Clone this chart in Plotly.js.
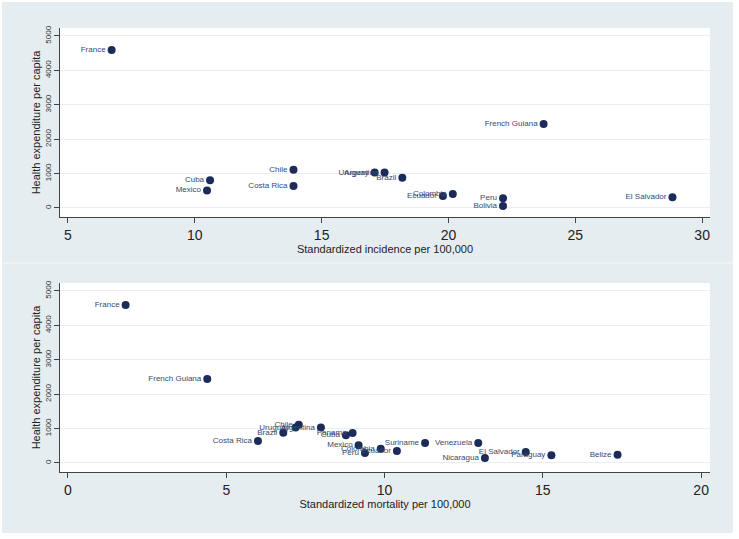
<!DOCTYPE html>
<html>
<head>
<meta charset="utf-8">
<script src="https://cdn.plot.ly/plotly-3.0.1.min.js"></script>
<style>
  html, body { margin: 0; padding: 0; background: #ffffff; }
  #chart { width: 739px; height: 539px; }
</style>
</head>
<body>
<div id="chart"></div>
<script>
// top panel: incidence vs health expenditure
var incCountries = ["France", "Cuba", "Mexico", "Chile", "Costa Rica", "Uruguay", "Argentina",
  "Brazil", "Ecuador", "Colombia", "Peru", "Bolivia", "French Guiana", "El Salvador"];
var incidence = [6.72, 10.60, 10.48, 13.89, 13.89, 17.09, 17.48, 18.18, 19.78, 20.17, 22.15, 22.15, 23.75, 28.83];
var incSpend = [4590, 805, 510, 1115, 640, 1030, 1030, 882, 350, 410, 285, 58, 2440, 315];

// bottom panel: mortality vs health expenditure
var morCountries = ["France", "French Guiana", "Costa Rica", "Brazil", "Uruguay", "Chile", "Argentina",
  "Cuba", "Panama", "Mexico", "Peru", "Colombia", "Ecuador", "Suriname", "Venezuela",
  "Nicaragua", "El Salvador", "Paraguay", "Belize"];
var mortality = [1.82, 4.40, 6.00, 6.80, 7.19, 7.29, 7.99, 8.78, 8.99, 9.18, 9.38, 9.88, 10.39,
  11.28, 12.96, 13.17, 14.46, 15.27, 17.36];
var morSpend = [4590, 2440, 640, 882, 1030, 1115, 1030, 805, 875, 515, 287, 412, 350,
  583, 583, 146, 316, 222, 242];

var navy = "#1c2b5a";
var bg = "#e6edf0";
var W = 739, H = 539;

function pts(x, y, names, xa, ya) {
  return {
    x: x, y: y, text: names,
    xaxis: xa, yaxis: ya,
    type: "scatter",
    mode: "markers+text",
    textposition: "middle left",
    textfont: {size: 8, color: "#3a4870", family: "Liberation Sans, Arial, sans-serif"},
    marker: {size: 8, color: navy},
    hoverinfo: "skip",
    cliponaxis: false
  };
}

var data = [
  pts(incidence, incSpend, incCountries, "x", "y"),
  pts(mortality, morSpend, morCountries, "x2", "y2")
];

function yax(dom, anchor) {
  return {
    domain: dom, anchor: anchor,
    range: [-262, 5232],
    tickvals: [0, 1000, 2000, 3000, 4000, 5000],
    tickangle: -90,
    tickfont: {size: 8, color: "#333"},
    ticks: "outside", ticklen: 5, tickcolor: "#444",
    showline: true, linecolor: "#444", linewidth: 1,
    showgrid: true, gridcolor: "#e8eef1", gridwidth: 1,
    zeroline: false, automargin: false,
    title: {text: "Health expenditure per capita", font: {size: 11, color: "#222"}, standoff: 0}
  };
}

function xax(range, vals, dom, anchor, title) {
  return {
    domain: dom, anchor: anchor,
    range: range, tickvals: vals,
    tickfont: {size: 14, color: "#222"},
    ticks: "outside", ticklen: 5, tickcolor: "#444",
    showline: true, linecolor: "#444", linewidth: 1,
    showgrid: false, zeroline: false, automargin: false,
    title: {text: title, font: {size: 11, color: "#222"}, standoff: 0}
  };
}

var xdom = [60 / W, 710 / W];
var layout = {
  width: W, height: H,
  margin: {l: 0, r: 0, t: 0, b: 0},
  paper_bgcolor: bg,
  plot_bgcolor: "#ffffff",
  font: {family: "Liberation Sans, Arial, sans-serif"},
  showlegend: false,
  xaxis: xax([4.685, 30.31], [5, 10, 15, 20, 25, 30], xdom, "y", "Standardized incidence per 100,000"),
  yaxis: yax([(H - 217) / H, (H - 28) / H], "x"),
  xaxis2: xax([-0.252, 20.28], [0, 5, 10, 15, 20], xdom, "y2", "Standardized mortality per 100,000"),
  yaxis2: yax([(H - 472) / H, (H - 283) / H], "x2"),
  shapes: [
    // white frame round the graph region
    {type: "rect", xref: "paper", yref: "paper", x0: 0, x1: 2 / W, y0: 0, y1: 1, fillcolor: "#fff", line: {width: 0}},
    {type: "rect", xref: "paper", yref: "paper", x0: 733 / W, x1: 1, y0: 0, y1: 1, fillcolor: "#fff", line: {width: 0}},
    {type: "rect", xref: "paper", yref: "paper", x0: 0, x1: 1, y0: 1 - 2 / H, y1: 1, fillcolor: "#fff", line: {width: 0}},
    {type: "rect", xref: "paper", yref: "paper", x0: 0, x1: 1, y0: 0, y1: 6 / H, fillcolor: "#fff", line: {width: 0}},
    {type: "line", xref: "paper", yref: "paper", x0: 2 / W, x1: 733 / W, y0: 1 - 263 / H, y1: 1 - 263 / H, line: {color: "#f4f7f8", width: 1}}
  ]
};

Plotly.newPlot("chart", data, layout, {staticPlot: true, displayModeBar: false});
</script>
</body>
</html>
